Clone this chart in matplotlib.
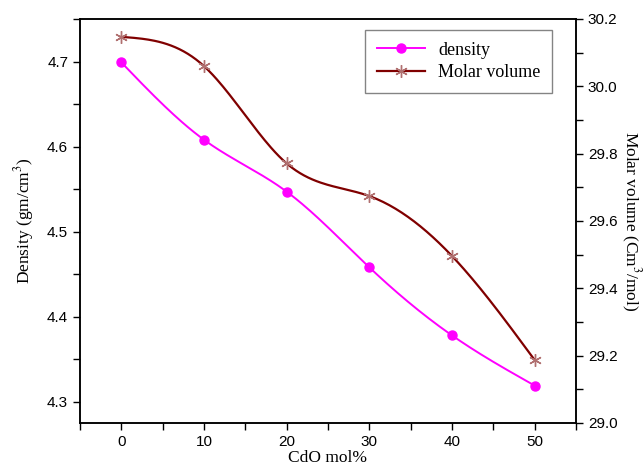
import matplotlib
matplotlib.use("Agg")
import matplotlib.pyplot as plt
from matplotlib.ticker import MultipleLocator, FormatStrFormatter
import numpy as np

cdo = [0, 10, 20, 30, 40, 50]
density = [4.699, 4.608, 4.547, 4.458, 4.378, 4.319]
molar_volume = [30.147, 30.06, 29.771, 29.674, 29.496, 29.187]


def spline(x, y, n=200):
    # natural cubic spline, just for drawing the smooth line
    x = np.asarray(x, float)
    y = np.asarray(y, float)
    k = len(x)
    h = np.diff(x)
    A = np.zeros((k, k))
    b = np.zeros(k)
    A[0, 0] = A[-1, -1] = 1
    for i in range(1, k - 1):
        A[i, i - 1] = h[i - 1]
        A[i, i] = 2 * (h[i - 1] + h[i])
        A[i, i + 1] = h[i]
        b[i] = 3 * ((y[i + 1] - y[i]) / h[i] - (y[i] - y[i - 1]) / h[i - 1])
    c = np.linalg.solve(A, b)
    xs = np.linspace(x[0], x[-1], n)
    idx = np.clip(np.searchsorted(x, xs) - 1, 0, k - 2)
    dx = xs - x[idx]
    bb = (y[1:] - y[:-1]) / h - h * (2 * c[:-1] + c[1:]) / 3
    d = (c[1:] - c[:-1]) / (3 * h)
    ys = y[idx] + bb[idx] * dx + c[idx] * dx ** 2 + d[idx] * dx ** 3
    return xs, ys


plt.rcParams['mathtext.fontset'] = 'stix'
sans = "Liberation Sans"
serif = "Liberation Serif"

fig = plt.figure(figsize=(6.44, 4.68), dpi=100)
ax = fig.add_axes([80 / 644, 45 / 468, 496 / 644, 404 / 468])
ax2 = ax.twinx()

pink = "#ff00ff"
brown = "#800000"
star_c = "#b07070"
star = (6, 2, 0)

xs, ys = spline(cdo, density)
ax.plot(xs, ys, color=pink, lw=1.4)
ax.plot(cdo, density, 'o', color=pink, ms=6.5)

xs2, ys2 = spline(cdo, molar_volume)
ax2.plot(xs2, ys2, color=brown, lw=1.6)
ax2.plot(cdo, molar_volume, ls='none', marker=star, color=star_c, ms=9, mew=1)

ax.set_xlim(-5, 55)
ax.set_ylim(4.275, 4.75)
ax2.set_ylim(29.0, 30.2)

ax.xaxis.set_major_locator(MultipleLocator(10))
ax.xaxis.set_minor_locator(MultipleLocator(5))
ax.yaxis.set_major_locator(MultipleLocator(0.1))
ax.yaxis.set_minor_locator(MultipleLocator(0.05))
ax2.yaxis.set_major_locator(MultipleLocator(0.2))
ax2.yaxis.set_minor_locator(MultipleLocator(0.1))
ax2.yaxis.set_major_formatter(FormatStrFormatter('%.1f'))

for a in (ax, ax2):
    a.tick_params(which='major', length=5, width=1, direction='out', labelsize=11)
    a.tick_params(which='minor', length=5, width=1, direction='out')
    for s in a.spines.values():
        s.set_linewidth(1.1)
    for lab in a.get_xticklabels() + a.get_yticklabels():
        lab.set_fontfamily(sans)

ax.set_xlabel("CdO mol%", family=serif, fontsize=12.5, labelpad=1)
ax.set_ylabel("Density (gm/cm$^3$)", family=serif, fontsize=12.5, labelpad=8)
ax2.set_ylabel("Molar volume (Cm$^3$/mol)", family=serif, fontsize=12.5, rotation=270, labelpad=18)

h1 = ax.plot([], [], color=pink, marker='o', ms=6.5, lw=1.4, label='density')[0]
h2 = ax.plot([], [], color=brown, marker=star, mec=star_c, ms=9, lw=1.6, label='Molar volume')[0]
leg = ax.legend(handles=[h1, h2], loc='upper right', bbox_to_anchor=(0.952, 0.973),
                borderaxespad=0, prop={'family': serif, 'size': 13}, frameon=True,
                fancybox=False, edgecolor='#666666', borderpad=0.65, handlelength=2.7,
                handletextpad=0.7, labelspacing=0.3)
leg.get_frame().set_linewidth(1)

fig.savefig("out.png", dpi=100)
